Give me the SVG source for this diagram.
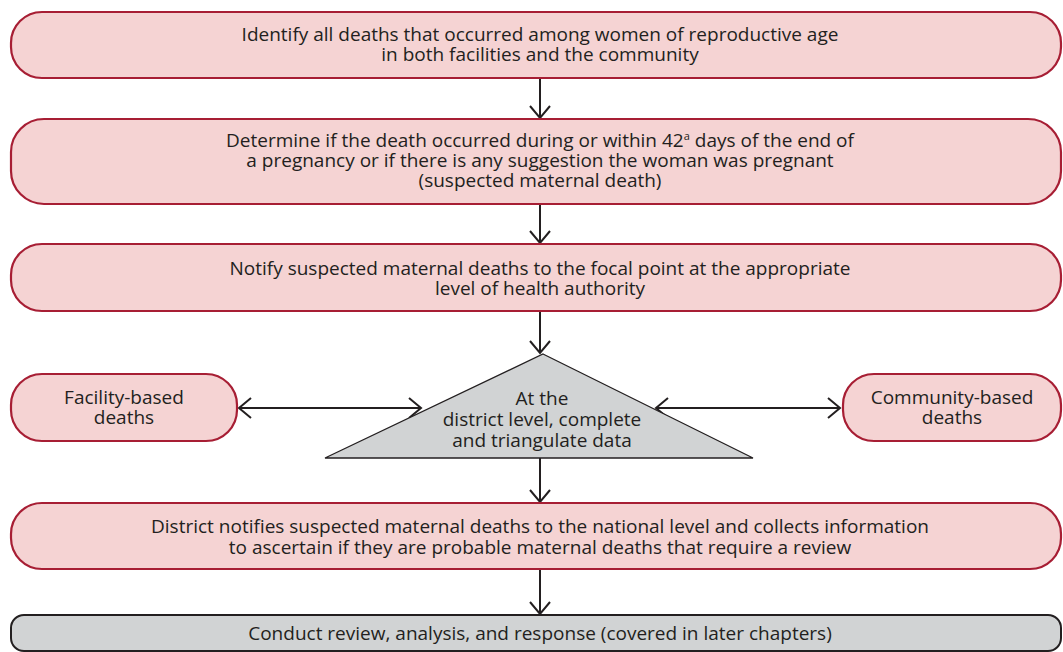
<svg xmlns="http://www.w3.org/2000/svg" width="1063" height="652" viewBox="0 0 1063 652">
<defs>
<style>
.pink{fill:#f5d3d3;stroke:#a71e34;stroke-width:2.2}
.gray{fill:#d1d3d4;stroke:#231f20;stroke-width:2}
.tri{fill:#d1d3d4;stroke:#231f20;stroke-width:1.3}
text{font-family:"Open Sans","Liberation Sans",sans-serif;font-size:19px;fill:#231f20;text-anchor:middle}
.conn{stroke:#231f20;stroke-width:2;fill:none}
</style>
<marker id="ah" viewBox="-14 -12 16 24" markerWidth="16" markerHeight="24" refX="0" refY="0" orient="auto-start-reverse" markerUnits="userSpaceOnUse">
<path d="M-12,-10 L0,0 L-12,10" fill="none" stroke="#231f20" stroke-width="2"/>
</marker>
</defs>
<g id="connectors">
<line class="conn" x1="540" y1="78" x2="540" y2="118" marker-end="url(#ah)"/>
<line class="conn" x1="540" y1="204" x2="540" y2="243" marker-end="url(#ah)"/>
<line class="conn" x1="540" y1="311" x2="540" y2="353" marker-end="url(#ah)"/>
<line class="conn" x1="540" y1="458" x2="540" y2="502" marker-end="url(#ah)"/>
<line class="conn" x1="540" y1="569" x2="540" y2="614" marker-end="url(#ah)"/>
<line class="conn" x1="239" y1="408" x2="421" y2="408" marker-start="url(#ah)" marker-end="url(#ah)"/>
<line class="conn" x1="656" y1="408" x2="840" y2="408" marker-start="url(#ah)" marker-end="url(#ah)"/>
</g>
<g id="identify">
<rect class="pink" x="11" y="12" width="1050" height="66" rx="31"/>
<text x="540" y="41">Identify all deaths that occurred among women of reproductive age</text>
<text x="540" y="61">in both facilities and the community</text>
</g>
<g id="determine">
<rect class="pink" x="11" y="119" width="1050" height="85" rx="33"/>
<text x="540" y="147">Determine if the death occurred during or within 42<tspan font-size="11" dy="-7">a</tspan><tspan dy="7"> days of the end of</tspan></text>
<text x="540" y="167">a pregnancy or if there is any suggestion the woman was pregnant</text>
<text x="540" y="187">(suspected maternal death)</text>
</g>
<g id="notify">
<rect class="pink" x="11" y="244" width="1050" height="67" rx="31"/>
<text x="540" y="275">Notify suspected maternal deaths to the focal point at the appropriate</text>
<text x="540" y="295">level of health authority</text>
</g>
<g id="facility">
<rect class="pink" x="11" y="374" width="226" height="67" rx="31"/>
<text x="124" y="404">Facility-based</text>
<text x="124" y="424">deaths</text>
</g>
<g id="district">
<polygon class="tri" points="543,354 753,458 325,458"/>
<text x="542" y="405">At the</text>
<text x="542" y="426">district level, complete</text>
<text x="542" y="447">and triangulate data</text>
</g>
<g id="community">
<rect class="pink" x="843" y="374" width="218" height="67" rx="31"/>
<text x="952" y="404">Community-based</text>
<text x="952" y="424">deaths</text>
</g>
<g id="district-notifies">
<rect class="pink" x="11" y="503" width="1050" height="66" rx="31"/>
<text x="540" y="533">District notifies suspected maternal deaths to the national level and collects information</text>
<text x="540" y="554">to ascertain if they are probable maternal deaths that require a review</text>
</g>
<g id="conduct">
<rect class="gray" x="11" y="615" width="1050" height="36" rx="13"/>
<text x="540" y="640">Conduct review, analysis, and response (covered in later chapters)</text>
</g>
</svg>
